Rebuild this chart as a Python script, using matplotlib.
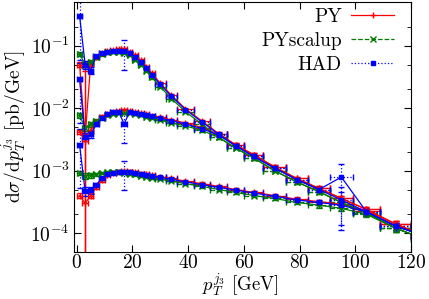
import matplotlib
matplotlib.use('Agg')
import matplotlib.pyplot as plt
from matplotlib.lines import Line2D
import numpy as np

plt.rcParams['font.family'] = 'serif'
plt.rcParams['font.serif'] = ['cmr10']
plt.rcParams['mathtext.fontset'] = 'cm'
plt.rcParams['axes.formatter.use_mathtext'] = True
plt.rcParams['font.size'] = 14

# bin edges in p_T [GeV]
edges = [0, 2, 4, 6, 8, 10, 12, 14, 16, 18, 20, 22, 24, 26,
         28, 32, 36, 42, 48, 54, 60, 67, 75, 83, 91, 99, 109, 120, 130]

# three distributions, each for PY, PYscalup, HAD  [pb/GeV]
a_py = [0.05, 0.0035, 0.052, 0.065, 0.075, 0.082, 0.085, 0.087, 0.088, 0.08,
        0.07, 0.058, 0.046, 0.036, 0.025, 0.016, 0.0098, 0.0062, 0.0039,
        0.0026, 0.0018, 0.00115, 0.00075, 0.00052, 0.00036, 0.00024, 0.00014, 0.00009]
a_up = [0.074, 0.05, 0.055, 0.066, 0.073, 0.078, 0.08, 0.079, 0.076, 0.07,
        0.06, 0.05, 0.04, 0.031, 0.022, 0.0142, 0.0088, 0.0055, 0.0034,
        0.0023, 0.0016, 0.001, 0.00066, 0.00046, 0.00031, 0.00021, 0.00012, 0.00008]
a_had = [0.3, 0.05, 0.04, 0.068, 0.075, 0.08, 0.082, 0.083, 0.082, 0.076,
         0.066, 0.055, 0.044, 0.034, 0.024, 0.0155, 0.0095, 0.006, 0.0038,
         0.0025, 0.0017, 0.0011, 0.00072, 0.0005, 0.00079, 0.00022, 0.00013, 0.00009]

b_py = [0.0042, 0.003, 0.0045, 0.006, 0.0073, 0.0082, 0.0088, 0.0091, 0.0092, 0.009,
        0.0087, 0.0083, 0.008, 0.0076, 0.0071, 0.0065, 0.0058, 0.0049, 0.0038,
        0.0026, 0.0018, 0.00115, 0.00075, 0.00052, 0.00036, 0.00024, 0.00014, 0.00009]
b_up = [0.0077, 0.0048, 0.0055, 0.0063, 0.007, 0.0078, 0.0082, 0.0085, 0.0085, 0.0083,
        0.008, 0.0077, 0.0073, 0.0069, 0.0064, 0.0058, 0.0052, 0.0044, 0.0034,
        0.0023, 0.0016, 0.001, 0.00066, 0.00046, 0.00031, 0.00021, 0.00012, 0.00008]
b_had = [0.029, 0.0035, 0.0038, 0.0055, 0.007, 0.008, 0.0086, 0.0088, 0.0056, 0.0088,
         0.0085, 0.0081, 0.0078, 0.0074, 0.0069, 0.0063, 0.0056, 0.0047, 0.0037,
         0.0025, 0.0017, 0.0011, 0.00072, 0.0005, 0.00034, 0.00022, 0.00013, 0.00009]

c_py = [0.0004, 0.0003, 0.0004, 0.00055, 0.0007, 0.00085, 0.00093, 0.00097, 0.00098, 0.00097,
        0.00094, 0.0009, 0.00087, 0.00084, 0.0008, 0.00075, 0.00068, 0.00062, 0.00056,
        0.0005, 0.00045, 0.0004, 0.00035, 0.00032, 0.00029, 0.00023, 0.00014, 0.00009]
c_up = [0.00093, 0.00082, 0.00084, 0.00088, 0.00092, 0.00095, 0.00096, 0.00095, 0.00093, 0.0009,
        0.00087, 0.00083, 0.0008, 0.00077, 0.00073, 0.00068, 0.00062, 0.00056, 0.0005,
        0.00045, 0.0004, 0.00036, 0.00031, 0.00028, 0.00025, 0.0002, 0.00012, 0.00008]
c_had = [0.0026, 0.00047, 0.00049, 0.0006, 0.00075, 0.00087, 0.00093, 0.00096, 0.00097, 0.00095,
         0.00092, 0.00089, 0.00086, 0.00083, 0.00078, 0.00073, 0.00066, 0.0006, 0.00054,
         0.00049, 0.00044, 0.00039, 0.00034, 0.00031, 0.00028, 0.00022, 0.00013, 0.00009]

# relative statistical errors
err_py = [0.08, 12.0, 0.1, 0.06, 0.05, 0.04, 0.04, 0.04, 0.04, 0.04,
          0.04, 0.04, 0.04, 0.04, 0.04, 0.04, 0.04, 0.05, 0.05,
          0.05, 0.06, 0.06, 0.07, 0.08, 0.09, 0.1, 0.12, 0.15]
err_up = [0.08, 0.1, 0.08, 0.06, 0.05, 0.04, 0.04, 0.04, 0.04, 0.04,
          0.04, 0.04, 0.04, 0.04, 0.04, 0.04, 0.04, 0.05, 0.05,
          0.05, 0.06, 0.06, 0.07, 0.08, 0.09, 0.1, 0.12, 0.15]
err_had = [0.8, 0.15, 0.12, 0.06, 0.05, 0.04, 0.04, 0.04, 0.5, 0.04,
           0.04, 0.04, 0.04, 0.04, 0.04, 0.04, 0.04, 0.05, 0.05,
           0.05, 0.06, 0.06, 0.07, 0.08, 0.6, 0.1, 0.12, 0.15]

edges = np.array(edges)
xc = 0.5 * (edges[1:] + edges[:-1])
xw = 0.5 * (edges[1:] - edges[:-1])

fig = plt.figure(figsize=(4.29, 2.99), dpi=100)
ax = fig.add_axes([74/429, 1 - 252/299, 337/429, 250/299])

styles = [('PY', 'red', '-', '+', err_py, [a_py, b_py, c_py]),
          ('PYscalup', '#007a00', '--', 'x', err_up, [a_up, b_up, c_up]),
          ('HAD', 'blue', ':', 's', err_had, [a_had, b_had, c_had])]

handles = []
for label, col, ls, mk, rel, groups in styles:
    for vals in groups:
        y = np.array(vals)
        yerr = y * np.array(rel)
        lo = np.where(yerr >= y, y * 0.99999, yerr)
        eb = ax.errorbar(xc, y, xerr=xw, yerr=[lo, yerr],
                         fmt=mk, color=col, ms=4 if mk != 's' else 3, mew=1.0,
                         elinewidth=0.9, capsize=2, capthick=0.9, ls='-', lw=0.9)
        for bl in eb[2]:
            bl.set_linestyle(ls)
    handles.append(Line2D([], [], color=col, ls=ls, lw=0.9, marker=mk,
                          ms=4 if mk != 's' else 3, mew=1.0))

ax.set_yscale('log')
ax.set_xlim(-1, 120)
ax.set_ylim(5e-5, 0.5)
ax.set_xticks([0, 20, 40, 60, 80, 100, 120])
ax.tick_params(which='both', direction='in', top=True, right=True)
ax.tick_params(which='major', length=5, pad=3)
ax.tick_params(which='minor', length=3)
ax.tick_params(axis='x', pad=1.5)
ax.yaxis.set_minor_locator(matplotlib.ticker.LogLocator(subs=[2, 5]))
ax.yaxis.set_minor_formatter(matplotlib.ticker.NullFormatter())

fig.text(0.56, 0.0, r'$p_T^{j_3}$ [GeV]', ha='center', va='bottom', fontsize=13.5)
ax.set_ylabel(r'$\mathrm{d}\sigma/\mathrm{d}p_T^{j_3}$ [pb/GeV]', labelpad=2)

ax.legend(handles, ['PY', 'PYscalup', 'HAD'], loc='upper right', frameon=False,
          markerfirst=False, handlelength=2.2, labelspacing=0.3, borderpad=0,
          borderaxespad=0, bbox_to_anchor=(0.95, 0.975), handletextpad=0.5)

fig.savefig('out.png', dpi=100)
